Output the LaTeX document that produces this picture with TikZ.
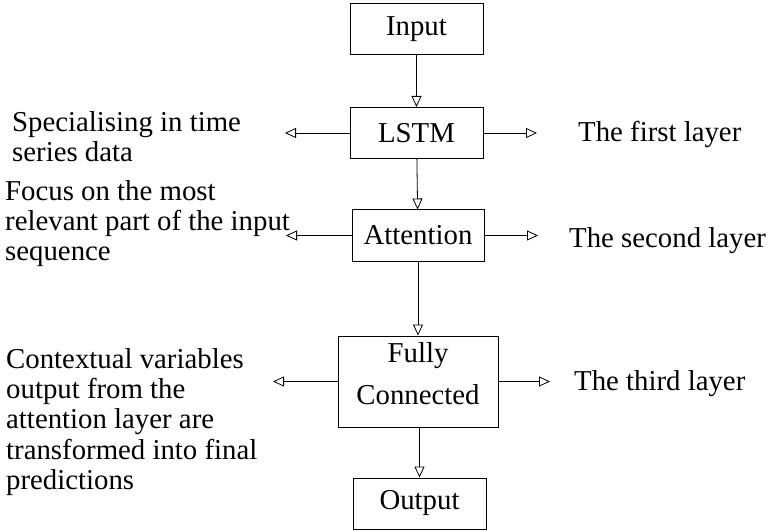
\documentclass[tikz,border=0pt]{standalone}
\usepackage{fontspec}
\setmainfont{Liberation Serif}
\usetikzlibrary{arrows.meta}

\begin{document}
\begin{tikzpicture}[x=1pt, y=-1pt, >={Triangle[open, length=11pt, width=10pt]},
    every node/.style={font=\fontsize{28.8}{30.3}\selectfont},
    layerbox/.style={draw, line width=1pt, minimum width=133pt, minimum height=51pt, inner sep=0pt},
    note/.style={align=left, anchor=north west, inner sep=0pt},
    tag/.style={anchor=west, inner sep=0pt},
    flow/.style={->, line width=0.8pt}]
    \useasboundingbox (0,0) rectangle (769,532);

% the layers, top to bottom
    \node [layerbox] (input) at (416.5, 29.5) {Input};
    \node [layerbox] (lstm) at (416.5, 133) {LSTM};
    \node [layerbox, minimum width=132pt] (attention) at (418, 235.5) {Attention};
    \node [layerbox, minimum width=160pt, minimum height=91pt, text depth=16pt, align=center] (fc) at (418, 381.5) {Fully\\[12pt]Connected};
    \node [layerbox] (output) at (419.5, 503.5) {Output};

    \draw [flow] (input) -- (lstm);
    \draw [flow] (lstm) -- (attention);
    \draw [flow] (attention) -- (fc);
    \draw [flow] (fc.south -| output) -- (output);

% side arrows
    \coordinate (lstmL) at (285, 133);
    \coordinate (lstmR) at (537, 133);
    \coordinate (attL) at (286, 235.5);
    \coordinate (attR) at (538, 235.5);
    \coordinate (fcL) at (273, 381.5);
    \coordinate (fcR) at (550, 381.5);

    \draw [flow] (lstm.west) -- (lstmL);
    \draw [flow] (lstm.east) -- (lstmR);
    \draw [flow] (attention.west) -- (attL);
    \draw [flow] (attention.east) -- (attR);
    \draw [flow] (fc.west) -- (fcL);
    \draw [flow] (fc.east) -- (fcR);

% what each layer does
    \node [note] (lstmnote) at (12, 111) {Specialising in time\\series data};
    \node [note] (attnote) at (5, 180) {Focus on the most\\relevant part of the input\\sequence};
    \node [note] (fcnote) at (6, 348) {Contextual variables\\output from the\\attention layer are\\transformed into final\\predictions};

    \node [tag] (lstmtag) at (578, 134) {The first layer};
    \node [tag] (atttag) at (569, 241) {The second layer};
    \node [tag] (fctag) at (574, 384) {The third layer};
\end{tikzpicture}
\end{document}
